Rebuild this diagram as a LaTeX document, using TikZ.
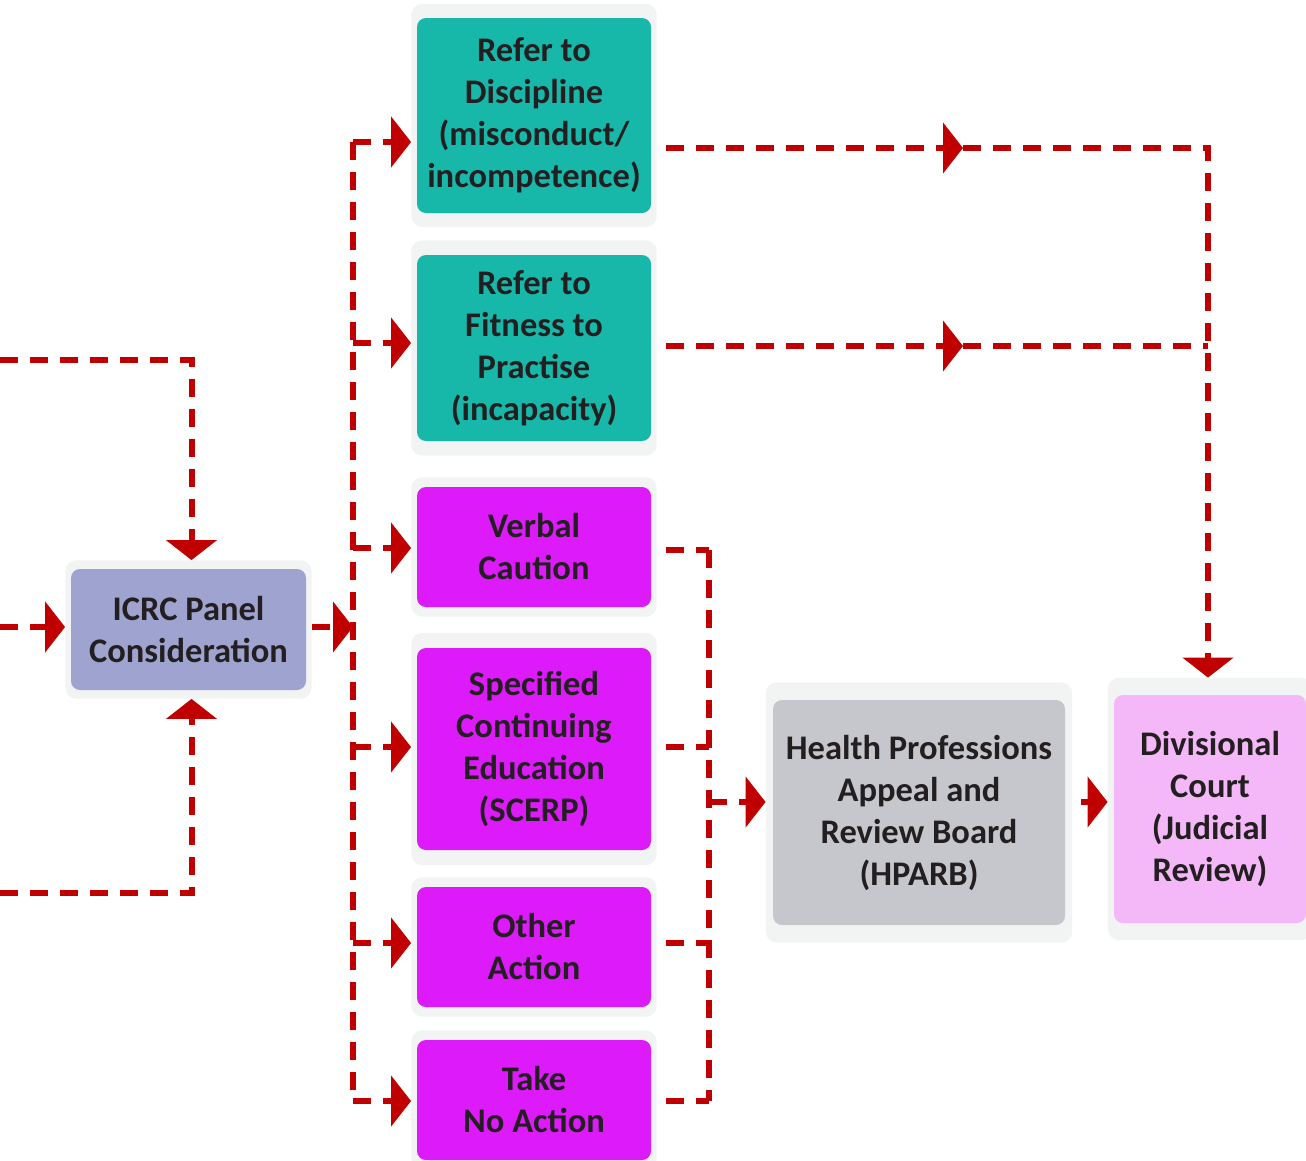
\documentclass[tikz,border=0pt]{standalone}
\usepackage{fontspec}
\setmainfont{Carlito}
\usepackage{xcolor}
\usepackage{tikz}
\usetikzlibrary{arrows.meta, positioning, fit, backgrounds, calc}
\definecolor{flowred}{HTML}{C00000}
\definecolor{framegray}{HTML}{F2F3F3}
\definecolor{icrcblue}{HTML}{9EA3CF}
\definecolor{referteal}{HTML}{17B8AA}
\definecolor{actmagenta}{HTML}{DC1AFA}
\definecolor{boardgray}{HTML}{C6C7CC}
\definecolor{courtpink}{HTML}{F4B8F8}
\definecolor{inktext}{HTML}{231F20}
\tikzset{
  box/.style={rectangle, rounded corners=9pt, inner sep=0pt, align=center,
              text=inktext, font=\fontsize{34.5}{42}\selectfont\bfseries},
  icrcbox/.style={box, fill=icrcblue, minimum width=235, minimum height=121},
  referbox/.style={box, fill=referteal, minimum width=234},
  actbox/.style={box, fill=actmagenta, minimum width=234},
  boardbox/.style={box, fill=boardgray, minimum width=292, minimum height=225},
  courtbox/.style={box, fill=courtpink, minimum width=192, minimum height=228},
  frame/.style={rectangle, fill=framegray, rounded corners=11pt, inner xsep=5.5pt},
  flow/.style={draw=flowred, line width=6pt, dash pattern=on 18pt off 12pt},
  tip/.style={-{Triangle[length=20pt, width=50pt]}},
  outgap/.style={shorten <=9pt},
}
\begin{document}
\begin{tikzpicture}[x=1pt, y=-1pt]
  \useasboundingbox (0,0) rectangle (1306,1160);

  % boxes
  \node (icrc) [icrcbox] at (188.5,629.5) {ICRC Panel\\Consideration};
  \node (disc) [referbox, minimum height=195] at (534,115.5) {Refer to\\Discipline\\(misconduct/\\incompetence)};
  \node (fit) [referbox, minimum height=186] at (534,348) {Refer to\\Fitness to\\Practise\\(incapacity)};
  \node (verbal) [actbox, minimum height=120] at (534,547) {Verbal\\Caution};
  \node (scerp) [actbox, minimum height=202] at (534,749) {Specified\\Continuing\\Education\\(SCERP)};
  \node (other) [actbox, minimum height=120] at (534,947) {Other\\Action};
  \node (take) [actbox, minimum height=120] at (534,1100) {Take\\No Action};
  \node (hparb) [boardbox] at (919,812.5) {Health Professions\\Appeal and\\Review Board\\(HPARB)};
  \node (court) [courtbox] at (1210,809) {Divisional\\Court\\(Judicial\\Review)};

  \begin{scope}[on background layer]
    \node (icrcF) [frame, fit=(icrc), inner ysep=8.5pt] {};
    \node (discF) [frame, fit=(disc), inner ysep=14pt] {};
    \node (fitF) [frame, fit=(fit), inner ysep=14.5pt] {};
    \node (verbalF) [frame, fit=(verbal), inner ysep=9.5pt] {};
    \node (scerpF) [frame, fit=(scerp), inner ysep=15pt] {};
    \node (otherF) [frame, fit=(other), inner ysep=9.5pt] {};
    \node (takeF) [frame, fit=(take), inner ysep=9.5pt] {};
    \node (hparbF) [frame, fit=(hparb), inner xsep=7pt, inner ysep=17.5pt] {};
    \node (courtF) [frame, fit=(court), inner xsep=6pt, inner ysep=17pt] {};
  \end{scope}

  % feeds into the panel
  \coordinate (inTop) at (0,360);
  \coordinate (inMid) at (0,627);
  \coordinate (inBot) at (0,893);
  \draw[flow, tip] (inTop) -| ([xshift=3pt]icrcF.north);
  \draw[flow, tip] (inMid) -- (inMid -| icrcF.west);
  \draw[flow, tip] (inBot) -| ([xshift=3pt]icrcF.south);

  % panel decisions
  \coordinate (busIn) at (353,627);
  \draw[flow, tip] (busIn -| icrcF.east) -- (busIn);
  \coordinate (jDisc) at (353,142);
  \coordinate (jFit) at (353,343);
  \coordinate (jVerbal) at (353,548);
  \coordinate (jScerp) at (353,747);
  \coordinate (jOther) at (353,943);
  \coordinate (jTake) at (353,1101);
  \draw[flow] (jDisc) -- (jTake);
  \foreach \j/\b in {jDisc/discF, jFit/fitF, jVerbal/verbalF, jScerp/scerpF, jOther/otherF, jTake/takeF}
    \draw[flow, tip] (\j) -- (\j -| \b.west);

  % appeals to HPARB
  \coordinate (cVerbal) at (709,550);
  \coordinate (cScerp) at (709,747);
  \coordinate (cOther) at (709,943);
  \coordinate (cTake) at (709,1101);
  \coordinate (cOut) at (709,802);
  \foreach \c/\b in {cVerbal/verbalF, cScerp/scerpF, cOther/otherF, cTake/takeF}
    \draw[flow, outgap] (\c -| \b.east) -- (\c);
  \draw[flow] (cVerbal) -- (cTake);
  \draw[flow, tip] (cOut) -- (cOut -| hparbF.west);
  \draw[flow, outgap, tip] (cOut -| hparbF.east) -- (cOut -| courtF.west);

  % referrals to the court
  \coordinate (mDisc) at (963,148);
  \coordinate (rDisc) at (1208,148);
  \coordinate (mFit) at (963,346);
  \coordinate (rFit) at (1208,346);
  \draw[flow, outgap, tip] (mDisc -| discF.east) -- (mDisc);
  \draw[flow, tip] (mDisc) -- (rDisc) -- (rDisc |- courtF.north);
  \draw[flow, outgap, tip] (mFit -| fitF.east) -- (mFit);
  \draw[flow] (mFit) -- (rFit);
\end{tikzpicture}
\end{document}
